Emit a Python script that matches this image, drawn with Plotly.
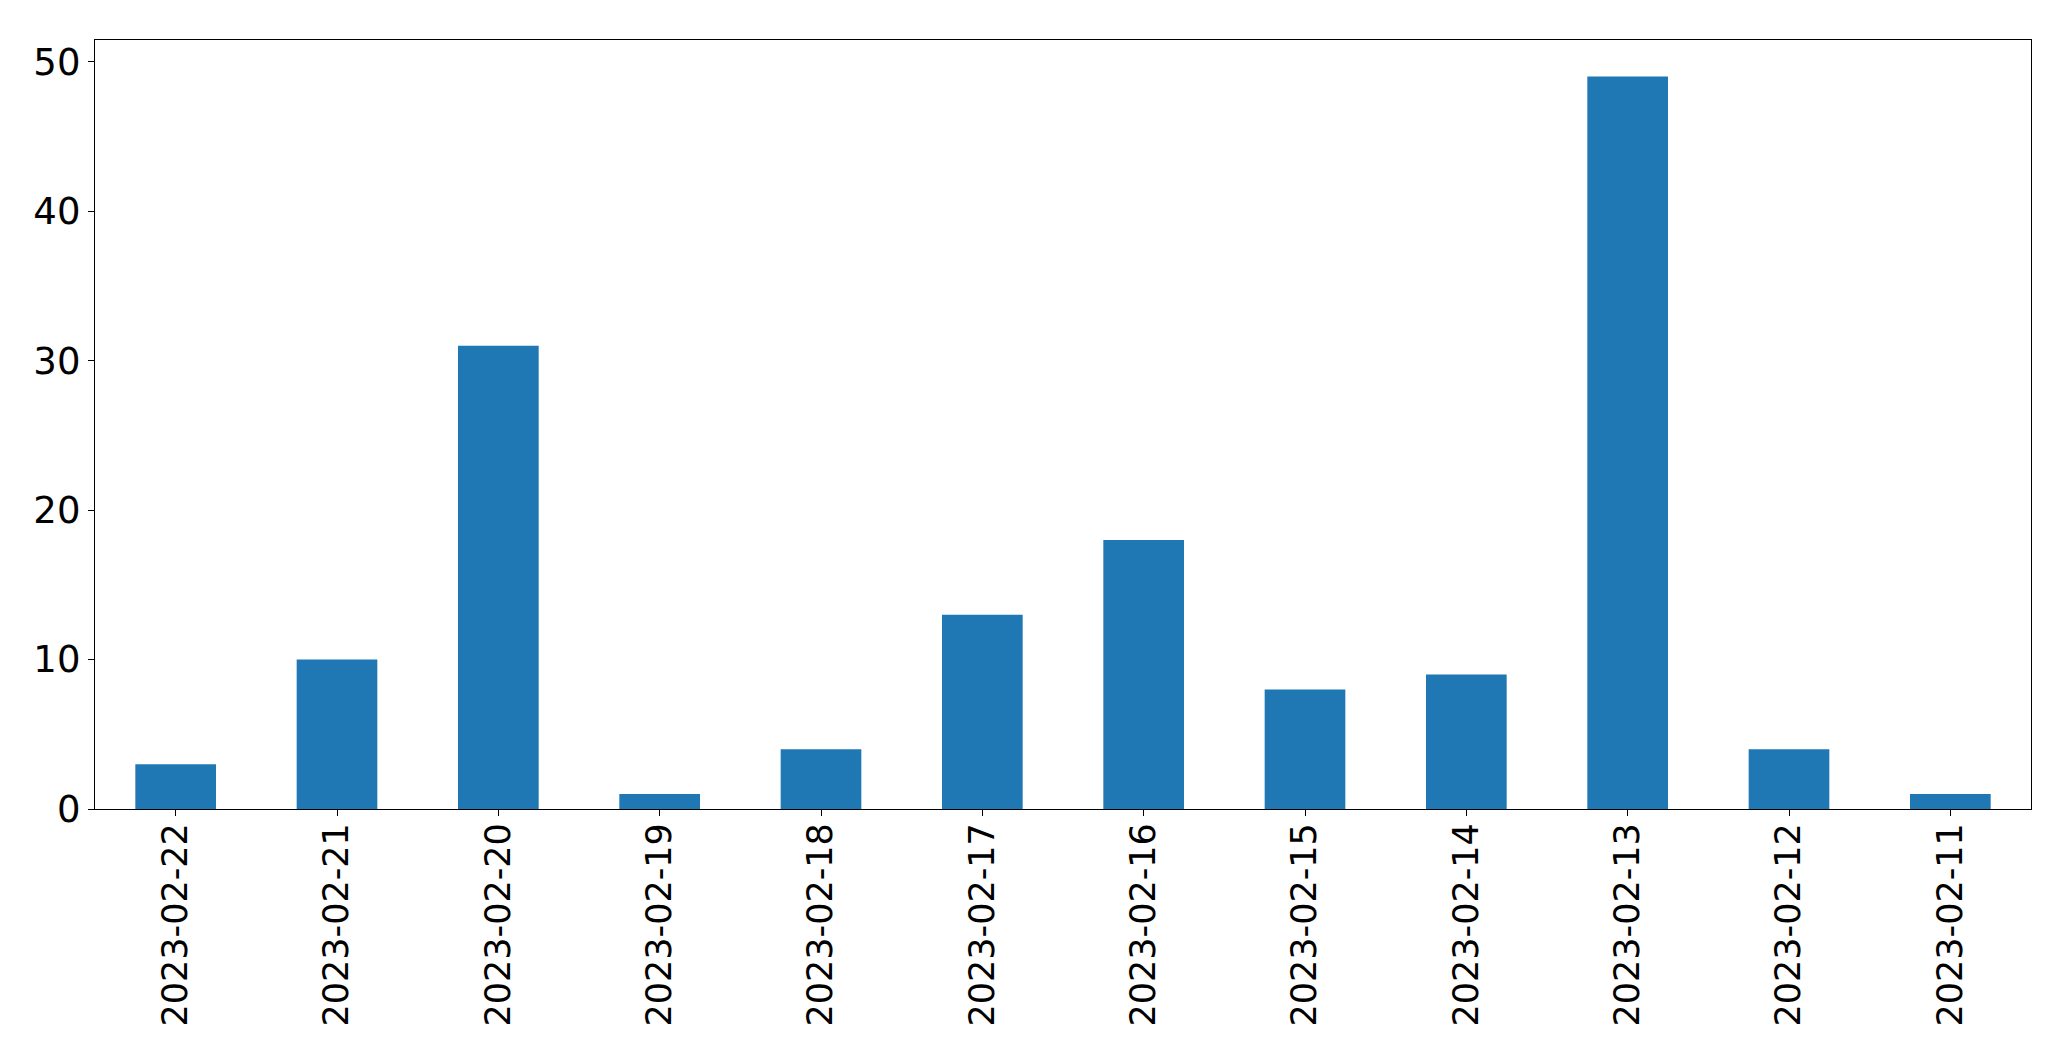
import plotly.graph_objects as go

dates = ["2023-02-22", "2023-02-21", "2023-02-20", "2023-02-19", "2023-02-18", "2023-02-17",
         "2023-02-16", "2023-02-15", "2023-02-14", "2023-02-13", "2023-02-12", "2023-02-11"]
counts = [3, 10, 31, 1, 4, 13, 18, 8, 9, 49, 4, 1]
y_ticks = [0, 10, 20, 30, 40, 50]

fig = go.Figure(go.Bar(x=dates, y=counts, marker=dict(color="#1f77b4", line=dict(width=0)), width=0.5))

# page body has an 8px default margin, so size and margins are offset accordingly
fig.update_layout(
    width=2063, height=1053,
    margin=dict(l=86.5, r=40, t=31.5, b=252),
    paper_bgcolor="white", plot_bgcolor="white",
    font=dict(family="DejaVu Sans", size=35, color="black"),
    showlegend=False,
)
fig.update_xaxes(
    type="category", range=[-0.5, len(dates) - 0.5], tickangle=-90,
    tickfont=dict(size=35), ticklabelstandoff=-7,
    showline=True, linecolor="black", linewidth=1.3, mirror=True,
    ticks="outside", ticklen=6, tickwidth=1.3, tickcolor="black",
    showgrid=False, zeroline=False,
)
fig.update_yaxes(
    range=[0, max(counts) * 1.05], tickvals=y_ticks,
    tickfont=dict(size=37),
    showline=True, linecolor="black", linewidth=1.3, mirror=True,
    ticks="outside", ticklen=6, tickwidth=1.3, tickcolor="black",
    showgrid=False, zeroline=False,
)

fig.write_html("out.html")
